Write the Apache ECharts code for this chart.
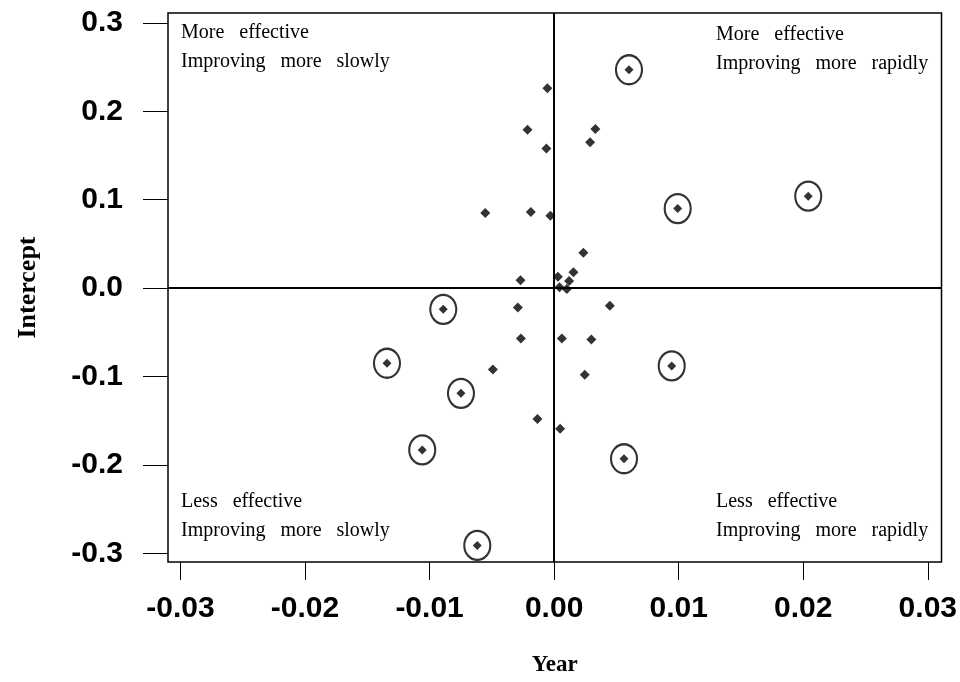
<!DOCTYPE html>
<html>
<head>
<meta charset="utf-8">
<title>Intercept vs Year</title>
<script src="https://cdn.jsdelivr.net/npm/echarts@6/dist/echarts.min.js"></script>
<style>
  html, body { margin: 0; padding: 0; background: #fff; }
  #main { width: 960px; height: 682px; }
</style>
</head>
<body>
<div id="main"></div>
<script>
// plain points (diamonds only)
const plainYear = [
  -0.00054, -0.00214, 0.00331, 0.00289, -0.00062, -0.00553, -0.00187, -0.0003,
  0.00235, 0.00155, 0.0003, -0.0027, 0.0012, 0.00043, 0.00102, -0.00291,
  0.00447, -0.00267, 0.00062, 0.00299, -0.00492, 0.00246, -0.00134, 0.00048
]
const plainIntercept = [
  0.226, 0.179, 0.180, 0.165, 0.158, 0.085, 0.086, 0.082,
  0.040, 0.018, 0.013, 0.009, 0.008, 0.001, -0.001, -0.022,
  -0.020, -0.057, -0.057, -0.058, -0.092, -0.098, -0.148, -0.159
]

// circled points
const ringedYear = [
  0.00601, 0.00992, 0.0204, -0.0089, -0.01342, -0.00748, -0.01059, -0.00617, 0.00944, 0.00561
]
const ringedIntercept = [
  0.247, 0.090, 0.104, -0.024, -0.085, -0.119, -0.183, -0.291, -0.088, -0.193
]

const xTicks = [-0.03, -0.02, -0.01, 0, 0.01, 0.02, 0.03]
const yTicks = [-0.3, -0.2, -0.1, 0, 0.1, 0.2, 0.3]

const quadrantLabels = [
  "More   effective\nImproving   more   slowly",
  "More   effective\nImproving   more   rapidly",
  "Less   effective\nImproving   more   slowly",
  "Less   effective\nImproving   more   rapidly"
]

const zip = (xs, ys) => xs.map((x, i) => [x, ys[i]])

const chart = echarts.init(document.getElementById("main"))

const labelFont = {
  fontFamily: "Liberation Sans, Arial, sans-serif",
  fontSize: 30,
  fontWeight: "bold",
  color: "#000"
}

const quadText = (text, left, top) => ({
  type: "text",
  left: left,
  top: top,
  style: {
    text: text,
    font: '20px "Liberation Serif", serif',
    lineHeight: 29,
    fill: "#000"
  }
})

const option = {
  backgroundColor: "#fff",
  animation: false,
  grid: {
    left: 168,
    right: 18,
    top: 13,
    bottom: 118,
    show: true,
    borderColor: "#000",
    borderWidth: 1.5,
    backgroundColor: "transparent"
  },
  xAxis: {
    type: "value",
    min: -0.031,
    max: 0.0311,
    name: "Year",
    nameLocation: "middle",
    nameGap: 92,
    nameTextStyle: {
      fontFamily: "Liberation Serif, serif",
      fontWeight: "bold",
      fontSize: 23,
      color: "#000"
    },
    axisLine: { show: false, onZero: false },
    splitLine: { show: false },
    axisTick: {
      show: true,
      length: 18,
      customValues: xTicks,
      lineStyle: { color: "#000", width: 1 }
    },
    axisLabel: {
      ...labelFont,
      margin: 32,
      customValues: xTicks,
      formatter: v => v.toFixed(2)
    }
  },
  yAxis: {
    type: "value",
    min: -0.3098,
    max: 0.3112,
    name: "Intercept",
    nameLocation: "middle",
    nameRotate: 90,
    nameGap: 127,
    nameTextStyle: {
      fontFamily: "Liberation Serif, serif",
      fontWeight: "bold",
      fontSize: 26,
      color: "#000"
    },
    axisLine: { show: false, onZero: false },
    splitLine: { show: false },
    axisTick: {
      show: true,
      length: 25,
      customValues: yTicks,
      lineStyle: { color: "#000", width: 1 }
    },
    axisLabel: {
      ...labelFont,
      margin: 45,
      padding: [6, 0, 0, 0],
      customValues: yTicks,
      formatter: v => v.toFixed(1)
    }
  },
  graphic: [
    quadText(quadrantLabels[0], 181, 18),
    quadText(quadrantLabels[1], 716, 20),
    quadText(quadrantLabels[2], 181, 487),
    quadText(quadrantLabels[3], 716, 487)
  ],
  series: [
    {
      type: "scatter",
      name: "points",
      symbol: "diamond",
      symbolSize: 10,
      itemStyle: { color: "#000" },
      data: zip(plainYear, plainIntercept),
      markLine: {
        silent: true,
        symbol: "none",
        label: { show: false },
        lineStyle: { color: "#000", width: 2, type: "solid" },
        data: [{ xAxis: 0 }, { yAxis: 0 }]
      }
    },
    {
      type: "scatter",
      name: "circled",
      symbol: "diamond",
      symbolSize: 9,
      itemStyle: { color: "#000" },
      data: zip(ringedYear, ringedIntercept)
    },
    {
      type: "scatter",
      name: "rings",
      symbol: "circle",
      symbolSize: [26, 29],
      itemStyle: {
        color: "rgba(0,0,0,0)",
        borderColor: "#000",
        borderWidth: 2.2
      },
      data: zip(ringedYear, ringedIntercept)
    }
  ]
}

chart.setOption(option)
</script>
</body>
</html>
